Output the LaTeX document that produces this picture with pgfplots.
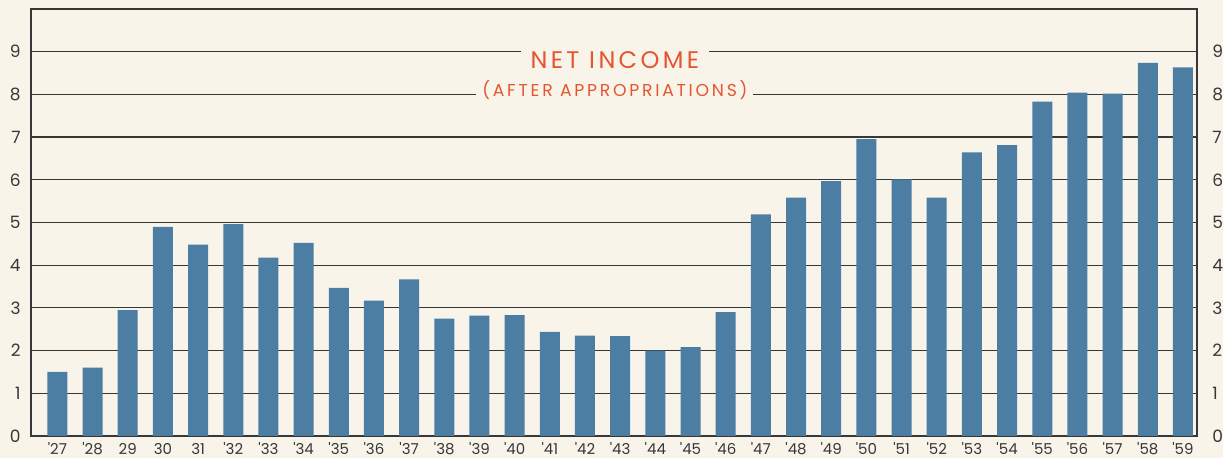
\documentclass[border=0pt]{standalone}
\usepackage{pgfplots}
\pgfplotsset{compat=1.18}
\usepackage{pgfplotstable}
\usepackage{fontspec}
\setmainfont{Poppins}
\newfontfamily\titlefont[LetterSpace=14]{Poppins}
\newfontfamily\subtitlefont[LetterSpace=16]{Poppins}
\usetikzlibrary{backgrounds}
\definecolor{cream}{RGB}{248,244,234}
\definecolor{barblue}{RGB}{76,125,163}
\definecolor{titlered}{RGB}{230,84,48}
\definecolor{gridc}{RGB}{55,55,55}

\pgfplotstableread{
x y
0 1.5
1 1.6
2 2.95
3 4.9
4 4.48
5 4.96
6 4.18
7 4.52
8 3.47
9 3.17
10 3.67
11 2.75
12 2.82
13 2.83
14 2.44
15 2.35
16 2.34
17 2.0
18 2.08
19 2.9
20 5.19
21 5.58
22 5.97
23 6.95
24 6.01
25 5.58
26 6.64
27 6.81
28 7.83
29 8.04
30 8.02
31 8.74
32 8.63
}\datatable

\begin{document}
\begin{tikzpicture}
\begin{axis}[
  name=main,
  scale only axis, width=583pt, height=213.5pt,
  xmin=-0.75, xmax=32.4, ymin=0, ymax=10,
  axis line style={gridc, line width=0.6pt},
  xtick={0,...,32},
  xticklabels={{\textquotesingle}27,{\textquotesingle}28,29,30,31,{\textquotesingle}32,{\textquotesingle}33,{\textquotesingle}34,{\textquotesingle}35,{\textquotesingle}36,{\textquotesingle}37,{\textquotesingle}38,{\textquotesingle}39,{\textquotesingle}40,{\textquotesingle}41,{\textquotesingle}42,{\textquotesingle}43,{\textquotesingle}44,{\textquotesingle}45,{\textquotesingle}46,{\textquotesingle}47,{\textquotesingle}48,{\textquotesingle}49,{\textquotesingle}50,{\textquotesingle}51,{\textquotesingle}52,{\textquotesingle}53,{\textquotesingle}54,{\textquotesingle}55,{\textquotesingle}56,{\textquotesingle}57,{\textquotesingle}58,{\textquotesingle}59},
  ytick={0,...,9},
  ymajorgrids, grid style={gridc, line width=0.6pt},
  major tick length=0pt,
  /pgf/number format/assume math mode=true,
  xticklabel style={anchor=base, yshift=-9.5pt, inner sep=0pt, font=\fontsize{7.5}{9}\selectfont, text=gridc},
  yticklabel style={anchor=east, xshift=-5pt, inner sep=0pt, font=\fontsize{8.5}{10}\selectfont, text=gridc},
]
\addplot[ybar, bar width=10pt, fill=barblue, draw=none] table[x=x,y=y]{\datatable};
\node[fill=cream, text=titlered, inner xsep=5pt, inner ysep=2pt, font=\titlefont\fontsize{12}{14}\selectfont] at (axis cs:15.85,8.80) {NET INCOME};
\node[fill=cream, text=titlered, inner xsep=3pt, inner ysep=2pt, font=\subtitlefont\fontsize{8.6}{10}\selectfont] at (axis cs:15.85,8.11) {(AFTER APPROPRIATIONS)};
\end{axis}
\begin{axis}[
  scale only axis, width=583pt, height=213.5pt,
  xmin=-0.75, xmax=32.4, ymin=0, ymax=10,
  axis line style={draw=none},
  xtick=\empty,
  ytick={0,...,9},
  yticklabel pos=right,
  major tick length=0pt,
  /pgf/number format/assume math mode=true,
  yticklabel style={anchor=west, xshift=7.5pt, inner sep=0pt, font=\fontsize{8.5}{10}\selectfont, text=gridc},
]
\addplot[draw=none] coordinates {(0,0)};
\end{axis}
\pgfresetboundingbox
\path (main.south west) ++(-15.5pt,-11pt) coordinate (A);
\path (main.north east) ++(13pt,4.5pt) coordinate (B);
\path[use as bounding box] (A) rectangle (B);
\begin{pgfonlayer}{background}
\fill[cream] (A) rectangle (B);
\end{pgfonlayer}
\end{tikzpicture}
\end{document}
